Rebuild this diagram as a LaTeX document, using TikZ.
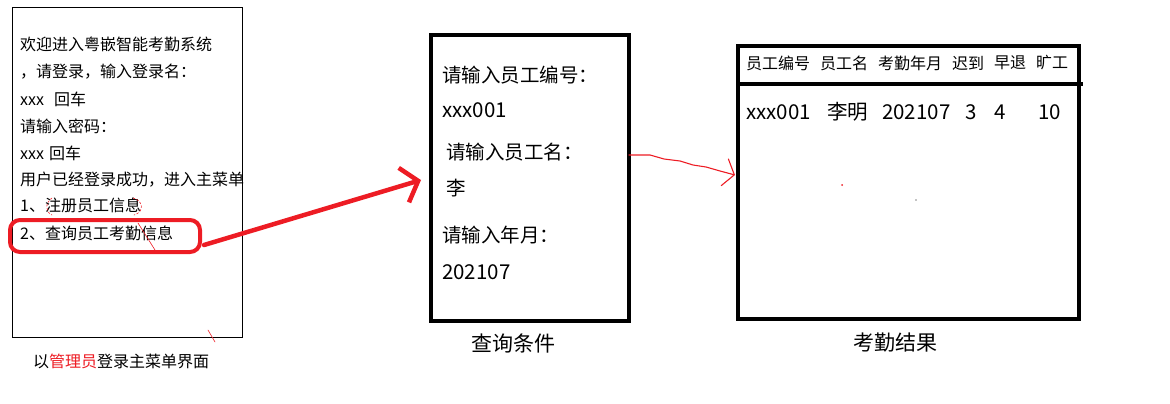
\documentclass[tikz,border=0pt]{standalone}
\usepackage{fontspec}
\setmainfont{Noto Sans CJK SC}
\usetikzlibrary{arrows.meta,calc}
\definecolor{pen}{RGB}{237,28,36}

\begin{document}
\begin{tikzpicture}[x=1pt,y=-1pt,
		box/.style={draw,inner sep=0pt,outer sep=0pt,anchor=north west},
		txt/.style={anchor=west,inner sep=0pt},
		small/.style={font=\fontsize{16}{16}\selectfont},
		form/.style={font=\fontsize{19.5}{19.5}\selectfont},
		cell/.style={font=\fontsize{20.5}{20.5}\selectfont},
		title/.style={inner sep=0pt,font=\fontsize{21}{21}\selectfont},
		scribble/.style={pen,line width=1.1pt,line cap=round}]
	\useasboundingbox (0,0) rectangle (1170,404);
	% main menu after login
	\node[box,line width=1pt,minimum width=230pt,minimum height=329pt] (menu) at (12,8) {};
	\node[txt,small] (m1) at (20,44) {欢迎进入粤嵌智能考勤系统};
	\node[txt,small] (m2) at (20,72) {，请登录，输入登录名：};
	\node[txt,small] (m3) at (20,99) {xxx\hspace{10pt}回车};
	\node[txt,small] (m4) at (20,126) {请输入密码：};
	\node[txt,small] (m5) at (20,153) {xxx\hspace{5pt}回车};
	\node[txt,small] (m6) at (20,180) {用户已经登录成功，进入主菜单};
	\node[txt,small] (m7) at (20,205) {1、注册员工信息};
	\node[txt,small] (m8) at (20,233) {2、查询员工考勤信息};
	\node[txt,small] (menucap) at (33,361) {以\textcolor{pen}{管理员}登录主菜单界面};
	\node[box,draw=pen,line width=4pt,rounded corners=10pt,minimum width=190pt,minimum height=32pt] (pick) at (10,220) {};
	% pen marks
	\draw[scribble,line width=0.6pt,dash pattern=on 2pt off 2pt] (52,198) .. controls (45,203) and (45,212) .. (52,215);
	\draw[scribble,line width=0.6pt,dash pattern=on 2pt off 2pt] (133,198) .. controls (143,200) and (145,212) .. (134,215);
	\draw[scribble,line width=0.6pt] (138,223) -- (155,250);
	\draw[scribble,line width=0.6pt] (208,330) -- (215,342);

	% query form
	\node[box,line width=3.5pt,minimum width=198pt,minimum height=286pt] (cond) at (431,35) {};
	\node[txt,form] (q1) at (442,75) {请输入员工编号：};
	\node[txt,form] (a1) at (442,110) {\fontsize{20.5}{20.5}\selectfont xxx001};
	\node[txt,form] (q2) at (446,152) {请输入员工名：};
	\node[txt,form] (a2) at (446,188) {李};
	\node[txt,form] (q3) at (442,235) {请输入年月：};
	\node[txt,form] (a3) at (442,272) {\fontsize{20.5}{20.5}\selectfont 202107};
	\node[title] (condcap) at (513,343) {查询条件};

	% result table
	\node[box,line width=4.5pt,minimum width=341pt,minimum height=273pt] (result) at (738,46) {};
	\draw[line width=4.5pt] (738,84) -- (1083,84);
	\node[txt,small] (h1) at (746,63) {员工编号};
	\node[txt,small] (h2) at (820,63) {员工名};
	\node[txt,small] (h3) at (878,63) {考勤年月};
	\node[txt,small] (h4) at (952,63) {迟到};
	\node[txt,small] (h5) at (994,63) {早退};
	\node[txt,small] (h6) at (1036,63) {旷工};
	\node[txt,cell] (d1) at (746,112) {xxx001};
	\node[txt,cell] (d2) at (827,112) {李明};
	\node[txt,cell] (d3) at (882,112) {202107};
	\node[txt,cell] (d4) at (965,112) {3};
	\node[txt,cell] (d5) at (994,112) {4};
	\node[txt,cell] (d6) at (1038,112) {10};
	\fill[pen] (842,185) circle (1pt);
	\fill (916,200) circle (0.6pt);
	\node[title] (rescap) at (895,343) {考勤结果};

	% arrows
	\coordinate (tipA) at (421,180);
	\coordinate (hit) at (735,175);
	\draw[pen,line width=4.5pt,line cap=round,-{Straight Barb[length=15pt,width=36pt]}] ($(pick.east)+(4,9)$) -- (tipA);
	\draw[scribble,-{Straight Barb[length=10pt,width=28pt]}] ($(cond.east)+(0,-23)$) -- (650,155) -- (664,159) -- (680,161) -- (693,165) -- (706,167) -- (720,171) -- (hit);
\end{tikzpicture}
\end{document}
